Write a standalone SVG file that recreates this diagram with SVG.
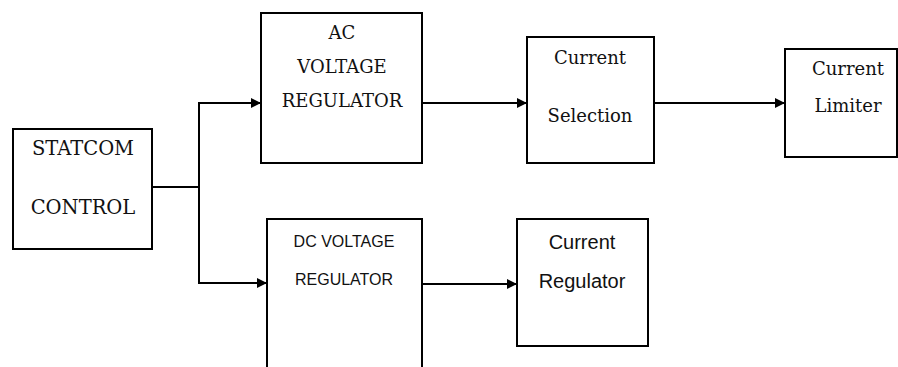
<svg xmlns="http://www.w3.org/2000/svg" width="898" height="367" viewBox="0 0 898 367">
<style>
.box{fill:#fff;stroke:#000;stroke-width:2}
.ln{fill:none;stroke:#000;stroke-width:2}
.s{font-family:"DejaVu Serif",serif;font-size:18px;fill:#111;text-anchor:middle}
.s2{font-size:19.5px}
.a{font-family:"Liberation Sans","DejaVu Sans",sans-serif;fill:#111;text-anchor:middle}
</style>
<defs>
<marker id="ah" markerWidth="10" markerHeight="10" refX="10" refY="5" orient="auto" markerUnits="userSpaceOnUse">
<path d="M0,0 L10,5 L0,10 Z" fill="#000"/>
</marker>
</defs>
<rect width="898" height="367" fill="#fff"/>
<g id="connectors">
<path class="ln" d="M152,187 H199"/>
<path class="ln" d="M199,187 V103 H261" marker-end="url(#ah)"/>
<path class="ln" d="M199,187 V283 H267" marker-end="url(#ah)"/>
<path class="ln" d="M422,103 H527" marker-end="url(#ah)"/>
<path class="ln" d="M654,103 H785" marker-end="url(#ah)"/>
<path class="ln" d="M422,284 H517" marker-end="url(#ah)"/>
</g>
<g id="statcom">
<rect class="box" x="13" y="129" width="139" height="120"/>
<text class="s s2" x="83" y="155">STATCOM</text>
<text class="s s2" x="83" y="214">CONTROL</text>
</g>
<g id="ac">
<rect class="box" x="261" y="13" width="161" height="150"/>
<text class="s" x="342" y="39">AC</text>
<text class="s" x="342" y="73">VOLTAGE</text>
<text class="s" x="342" y="107">REGULATOR</text>
</g>
<g id="selection">
<rect class="box" x="527" y="37" width="127" height="126"/>
<text class="s" x="590" y="64">Current</text>
<text class="s" x="590" y="122">Selection</text>
</g>
<g id="limiter">
<rect class="box" x="785" y="49" width="112" height="108"/>
<text class="s" x="848" y="75">Current</text>
<text class="s" x="848" y="112">Limiter</text>
</g>
<g id="dc">
<rect class="box" x="267" y="219" width="155" height="160"/>
<text class="a" x="344" y="247" font-size="16">DC VOLTAGE</text>
<text class="a" x="344" y="285" font-size="16">REGULATOR</text>
</g>
<g id="regulator">
<rect class="box" x="517" y="219" width="131" height="127"/>
<text class="a" x="582" y="249" font-size="20">Current</text>
<text class="a" x="582" y="288" font-size="20">Regulator</text>
</g>
</svg>
